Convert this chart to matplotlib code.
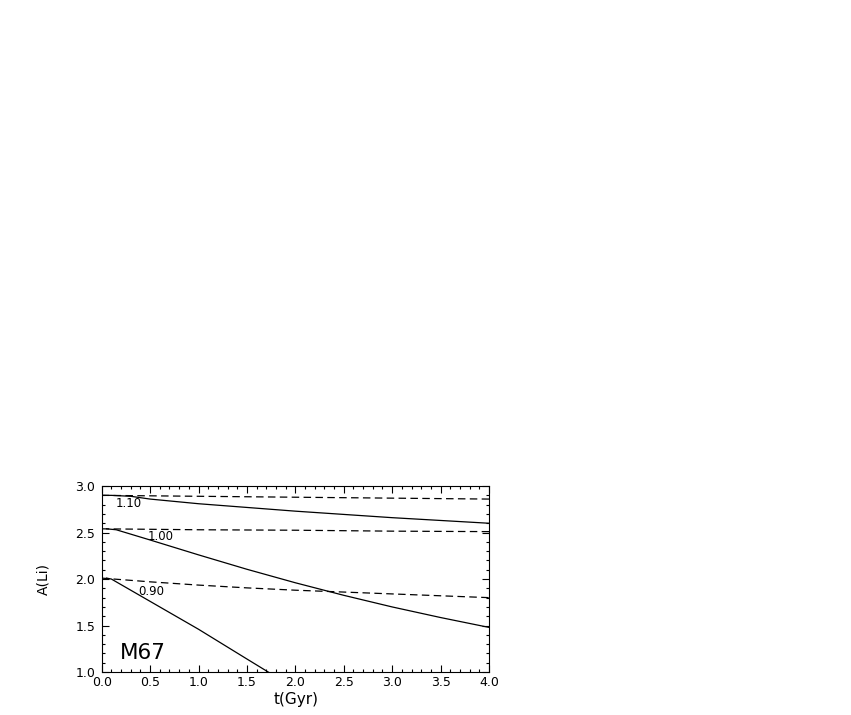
import matplotlib
matplotlib.use("Agg")
import matplotlib.pyplot as plt
from matplotlib.ticker import MultipleLocator

plt.rcParams['font.family'] = ['DejaVu Sans']

# Solid tracks (with rotation) for the three masses
t_110 = [0.0, 0.1, 0.3, 0.5, 1.0, 1.5, 2.0, 2.5, 3.0, 3.5, 4.0]
a_110 = [2.90, 2.90, 2.89, 2.86, 2.81, 2.77, 2.73, 2.695, 2.66, 2.63, 2.60]

t_100 = [0.05, 0.15, 0.5, 1.0, 1.5, 2.0, 2.5, 3.0, 3.5, 4.0]
a_100 = [2.54, 2.53, 2.42, 2.26, 2.105, 1.96, 1.825, 1.70, 1.586, 1.48]

t_090 = [0.05, 0.1, 0.5, 1.0, 1.5, 1.72, 1.8]
a_090 = [2.01, 2.00, 1.76, 1.46, 1.14, 1.00, 0.95]

# Dashed tracks (standard models)
td_110 = [0.0, 1.0, 2.0, 3.0, 4.0]
ad_110 = [2.90, 2.89, 2.88, 2.87, 2.86]

td_100 = [0.0, 1.0, 2.0, 3.0, 4.0]
ad_100 = [2.54, 2.53, 2.525, 2.515, 2.51]

td_090 = [0.0, 0.5, 1.0, 1.5, 2.0, 2.5, 3.0, 3.5, 4.0]
ad_090 = [2.01, 1.97, 1.935, 1.905, 1.88, 1.86, 1.84, 1.82, 1.80]

mass_labels = ['1.10', '1.00', '0.90']
label_x = [0.28, 0.61, 0.51]
label_y = [2.81, 2.46, 1.87]

fig = plt.figure(figsize=(8.51, 7.15), dpi=100)
ax = fig.add_axes([0.1195, 0.0601, 0.4551, 0.2601])

for t, a in [(t_110, a_110), (t_100, a_100), (t_090, a_090)]:
    ax.plot(t, a, color='black', lw=0.9)
for t, a in [(td_110, ad_110), (td_100, ad_100), (td_090, ad_090)]:
    ax.plot(t, a, color='black', lw=0.9, dashes=(6, 3.5))

for lab, x, y in zip(mass_labels, label_x, label_y):
    ax.text(x, y, lab, ha='center', va='center', fontsize=8.5)

ax.text(0.43, 1.21, 'M67', ha='center', va='center', fontsize=15.5)

ax.set_xlim(0, 4)
ax.set_ylim(1, 3)
ax.xaxis.set_major_locator(MultipleLocator(0.5))
ax.xaxis.set_minor_locator(MultipleLocator(0.1))
ax.yaxis.set_major_locator(MultipleLocator(0.5))
ax.yaxis.set_minor_locator(MultipleLocator(0.1))
ax.xaxis.set_major_formatter(plt.FormatStrFormatter('%.1f'))
ax.yaxis.set_major_formatter(plt.FormatStrFormatter('%.1f'))
ax.tick_params(which='both', direction='in', top=True, right=True, labelsize=9)
ax.tick_params(axis='x', pad=3)
ax.tick_params(axis='y', pad=4.5)
ax.tick_params(which='major', length=5, width=0.8)
ax.tick_params(which='minor', length=2.5, width=0.8)

ax.set_xlabel('t(Gyr)', fontsize=11)
ax.set_ylabel('A(Li)', fontsize=10)
ax.xaxis.set_label_coords(0.502, -0.11)
ax.yaxis.set_label_coords(-0.133, 0.5)

plt.savefig('out.png', dpi=100)
